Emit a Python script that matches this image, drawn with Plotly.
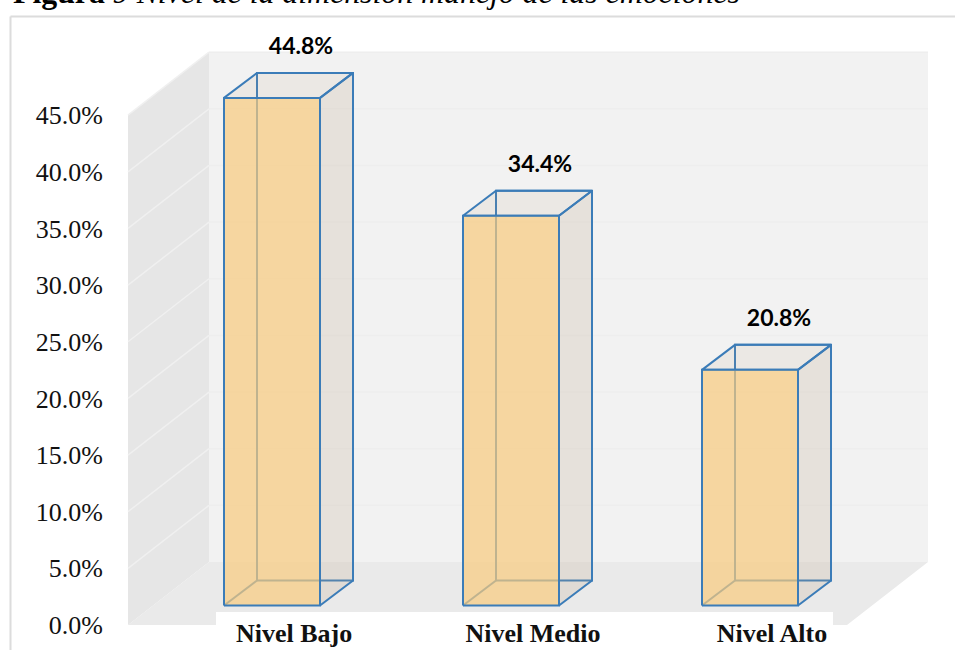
import plotly.graph_objects as go

categorias = ["Nivel Bajo", "Nivel Medio", "Nivel Alto"]
valores = [44.8, 34.4, 20.8]
marcas_y = [0, 5, 10, 15, 20, 25, 30, 35, 40, 45]

W, H = 955, 650
X0, XS = 272, 239      # px of first bar centre, px per category
Y0, YS = 625, 11.33    # px of 0 %, px per percent
xr = [(0 - X0) / XS, (W - X0) / XS]
yr = [(Y0 - H) / YS, Y0 / YS]
dx = lambda px: px / XS
dy = lambda px: px / YS
fx = lambda px: (px - X0) / XS
fy = lambda px: (Y0 - px) / YS

ANCHO = dx(96)
PROF_X, PROF_Y = dx(33), dy(25)
BASE = dy(19.5)
AZUL = "#3b7cb8"
W_X, W_Y = dx(81), dy(63)
XL, XR = fx(128), fx(847)
TOP = 45

fig = go.Figure()
shapes = []
def poly(pts, fill):
    path = "M" + " L".join(f"{a},{b}" for a, b in pts) + " Z"
    shapes.append(dict(type="path", path=path, xref="x", yref="y", fillcolor=fill,
                       line=dict(width=0), layer="below"))

# back wall, left wall, floor
poly([(XL + W_X, W_Y), (XR + W_X, W_Y), (XR + W_X, TOP + W_Y), (XL + W_X, TOP + W_Y)], "#f2f2f2")
poly([(XL, 0), (XL + W_X, W_Y), (XL + W_X, TOP + W_Y), (XL, TOP)], "#e6e6e6")
poly([(XL, 0), (XR, 0), (XR + W_X, W_Y), (XL + W_X, W_Y)], "#eaeaea")
for m in marcas_y[1:]:
    shapes.append(dict(type="line", xref="x", yref="y", x0=XL, y0=m, x1=XL + W_X, y1=m + W_Y,
                       line=dict(color="#f0f0f0", width=1.5), layer="below"))
    shapes.append(dict(type="line", xref="x", yref="y", x0=XL + W_X, y0=m + W_Y, x1=XR + W_X, y1=m + W_Y,
                       line=dict(color="#eeeeee", width=1.5), layer="below"))
# white box behind the category labels
shapes.append(dict(type="rect", xref="x", yref="y", x0=fx(216), x1=fx(833), y0=fy(H), y1=fy(612),
                   fillcolor="white", line=dict(width=0), layer="below"))
# outer frame
shapes.append(dict(type="line", xref="paper", yref="paper", x0=10.5 / W, x1=1, y0=1 - 16.5 / H, y1=1 - 16.5 / H,
                   line=dict(color="#dcdcdc", width=2)))
shapes.append(dict(type="line", xref="paper", yref="paper", x0=10.5 / W, x1=10.5 / W, y0=0, y1=1 - 16.5 / H,
                   line=dict(color="#dcdcdc", width=2)))

def traza(xs, ys, fill=None, line=AZUL, width=2):
    fig.add_trace(go.Scatter(x=xs, y=ys, mode="lines", fill="toself" if fill else "none",
                             fillcolor=fill, line=dict(color=line, width=width),
                             hoverinfo="skip", showlegend=False))

for i, v in enumerate(valores):
    l, r = i - ANCHO / 2, i + ANCHO / 2
    b, t = BASE, BASE + v
    # hidden edges
    traza([l + PROF_X, r + PROF_X, r + PROF_X, l + PROF_X, l + PROF_X],
          [b + PROF_Y, b + PROF_Y, t + PROF_Y, t + PROF_Y, b + PROF_Y])
    traza([l, l + PROF_X], [b, b + PROF_Y])
    # top and side faces
    traza([l, r, r + PROF_X, l + PROF_X, l], [t, t, t + PROF_Y, t + PROF_Y, t],
          fill="rgba(186,161,131,0.12)")
    traza([r, r + PROF_X, r + PROF_X, r, r], [b, b + PROF_Y, t + PROF_Y, t, b],
          fill="rgba(186,161,131,0.2)")
    # front face
    traza([l, r, r, l, l], [b, b, t, t, b], fill="rgba(248,202,125,0.7)")

fig.add_trace(go.Scatter(
    x=[i + dx(29) for i in range(len(valores))],
    y=[v + BASE + PROF_Y + dy(25) for v in valores],
    mode="text", text=[f"{v:.1f}%" for v in valores], textposition="middle center",
    textfont=dict(family="Lato", size=23, color="black", weight="bold"),
    hoverinfo="skip", showlegend=False, cliponaxis=False))

fig.update_layout(
    width=W, height=H, autosize=False, margin=dict(l=0, r=0, t=0, b=0, pad=0),
    paper_bgcolor="white", plot_bgcolor="white", shapes=shapes, hovermode=False,
    xaxis=dict(range=xr, domain=[0, 1], showgrid=False, zeroline=False, showline=False,
               tickmode="array", tickvals=[i + dx(22) for i in range(len(categorias))],
               ticktext=categorias, ticks="", anchor="free", position=(H - 614.5) / H,
               tickfont=dict(family="Liberation Serif", size=26, color="#111111", weight="bold")),
    yaxis=dict(range=yr, domain=[0, 1], showgrid=False, zeroline=False, showline=False,
               tickmode="array", tickvals=marcas_y, ticktext=[f"{m:.1f}%" for m in marcas_y],
               ticks="outside", ticklen=20, tickcolor="rgba(0,0,0,0)",
               anchor="free", position=128 / W,
               tickfont=dict(family="Liberation Serif", size=26, color="#111111")),
    annotations=[dict(xref="paper", yref="paper", x=11 / W, y=1 - 12 / H, xanchor="left", yanchor="bottom",
                      showarrow=False, align="left",
                      text="<b>Figura</b> <i>9 Nivel de la dimensión manejo de las emociones</i>",
                      font=dict(family="Liberation Serif", size=31.8, color="black"))],
)
fig.write_html("out.html", config=dict(displayModeBar=False),
               post_script="document.body.style.margin='0';document.documentElement.style.overflow='hidden';")
